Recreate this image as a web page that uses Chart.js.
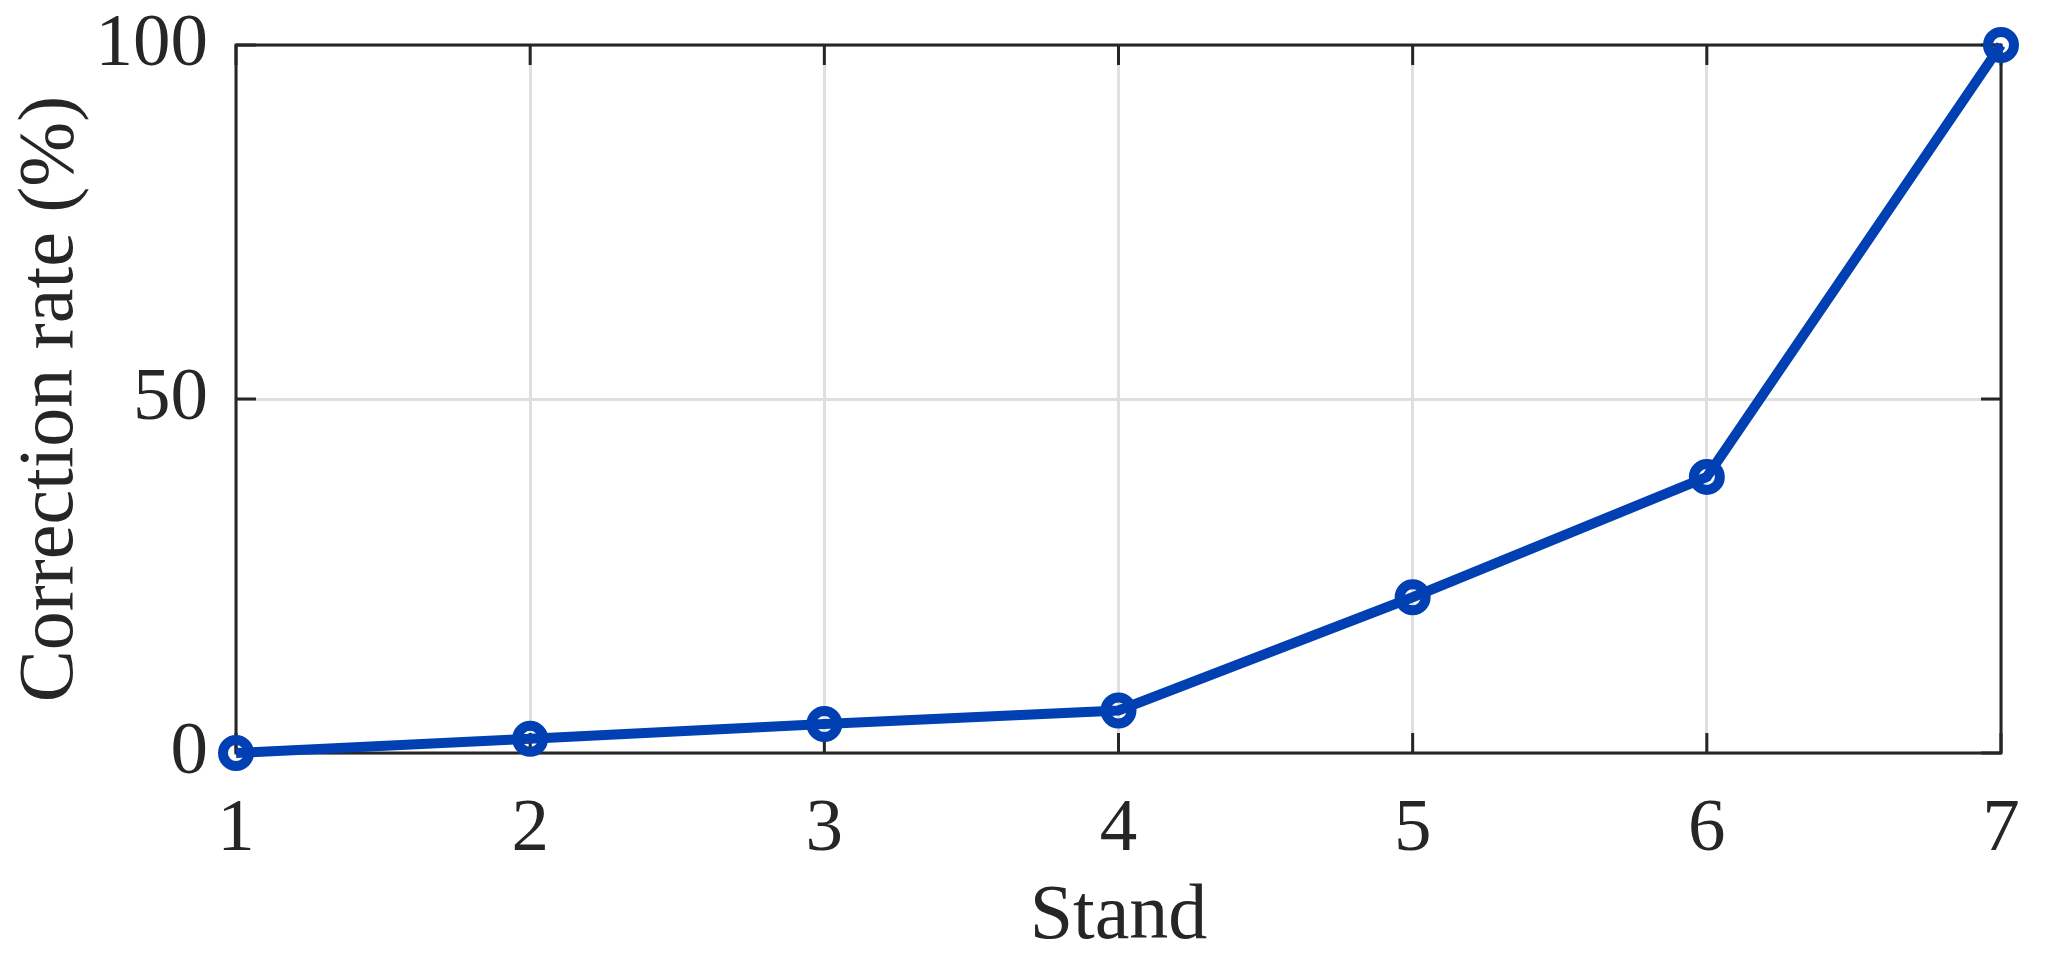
<!DOCTYPE html>
<html lang="en">
<head>
    <meta charset="UTF-8">
    <title>Correction rate per stand</title>
    <!-- integrate chartJS -->
    <script src="https://cdn.jsdelivr.net/npm/chart.js"></script>
    <style>
      html, body { margin: 0; padding: 0; background: #ffffff; }
      #wrap { width: 2052px; height: 967px; }
    </style>
</head>
<body>
  <div id="wrap">
    <canvas id="rateChart" width="2052" height="967"></canvas>
  </div>

  <script>
    // data
    const stands = ['1', '2', '3', '4', '5', '6', '7'];
    const correctionRate = [0, 2, 4.1, 6, 22, 39, 100];
    const yTicks = [0, 50, 100];

    const lineBlue = '#0040b2';
    const axisColor = '#262626';
    const gridColor = '#dfdfdf';
    const fontName = "'Liberation Serif', 'Times New Roman', serif";

    // box around plot area + inward tick marks (matlab style), drawn under the line
    const boxPlugin = {
      id: 'boxPlugin',
      beforeDatasetsDraw(chart) {
        const ctx = chart.ctx;
        const a = chart.chartArea;
        const xs = chart.scales.x;
        const ys = chart.scales.y;
        const tick = 20;
        ctx.save();
        ctx.strokeStyle = axisColor;
        ctx.lineWidth = 3;
        ctx.beginPath();
        xs.ticks.forEach((t, i) => {
          const px = xs.getPixelForTick(i);
          ctx.moveTo(px, a.bottom); ctx.lineTo(px, a.bottom - tick);
          ctx.moveTo(px, a.top); ctx.lineTo(px, a.top + tick);
        });
        ys.ticks.forEach(t => {
          const py = ys.getPixelForValue(t.value);
          ctx.moveTo(a.left, py); ctx.lineTo(a.left + tick, py);
          ctx.moveTo(a.right, py); ctx.lineTo(a.right - tick, py);
        });
        ctx.stroke();
        ctx.strokeRect(a.left, a.top, a.right - a.left, a.bottom - a.top);
        ctx.restore();
      }
    };

    const ctx = document.getElementById('rateChart');
    new Chart(ctx, {
      type: 'line',
      data: {
        labels: stands,
        datasets: [{
          label: 'Correction rate',
          data: correctionRate,
          borderColor: lineBlue,
          borderWidth: 10,
          pointRadius: 13,
          pointBorderWidth: 10,
          pointBorderColor: lineBlue,
          pointBackgroundColor: 'rgba(0,0,0,0)',
          pointHoverRadius: 13,
          tension: 0,
          clip: false
        }]
      },
      options: {
        responsive: false,
        animation: false,
        layout: {
          padding: { left: 0, right: 51, top: 45, bottom: 0 }
        },
        plugins: {
          legend: { display: false },
          tooltip: { enabled: false }
        },
        scales: {
          x: {
            type: 'category',
            offset: false,
            grid: { color: gridColor, lineWidth: 3, drawTicks: false, offset: false },
            border: { display: false },
            ticks: {
              color: axisColor,
              padding: 32,
              maxRotation: 0,
              font: { family: fontName, size: 75 }
            },
            title: {
              display: true,
              text: 'Stand',
              color: axisColor,
              padding: { top: 0, bottom: 3 },
              font: { family: fontName, size: 78 }
            },
            afterFit(scale) {
              scale.height = 214;
              scale.paddingLeft = 0;
              scale.paddingRight = 0;
            }
          },
          y: {
            min: 0,
            max: 100,
            grid: { color: gridColor, lineWidth: 3, drawTicks: false },
            border: { display: false },
            afterBuildTicks(scale) { scale.ticks = yTicks.map(v => ({ value: v })); },
            ticks: {
              color: axisColor,
              padding: 28,
              font: { family: fontName, size: 75 }
            },
            title: {
              display: true,
              text: 'Correction rate (%)',
              color: axisColor,
              padding: { top: 5, bottom: 0 },
              font: { family: fontName, size: 78 }
            },
            afterFit(scale) {
              scale.width = 236;
              scale.paddingTop = 0;
              scale.paddingBottom = 0;
            }
          }
        }
      },
      plugins: [boxPlugin]
    });
  </script>
</body>
</html>
